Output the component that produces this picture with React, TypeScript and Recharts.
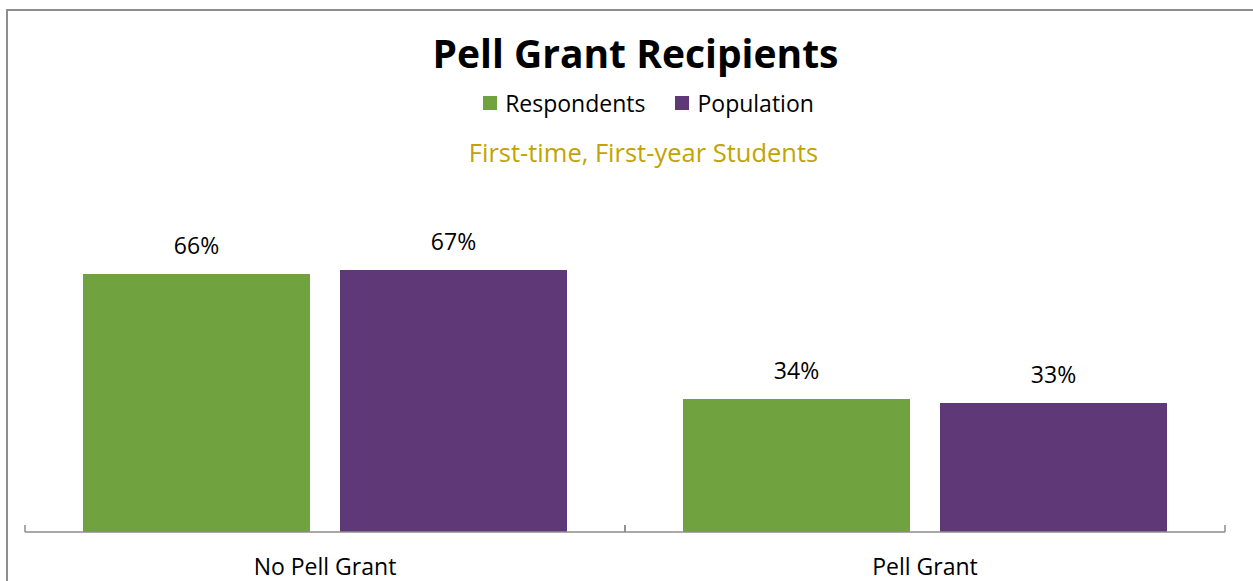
import { BarChart, Bar, XAxis, YAxis, LabelList } from 'recharts';

const categories = ['No Pell Grant', 'Pell Grant'];
const respondents = [66, 34];
const population = [67, 33];
const seriesNames = ['Respondents', 'Population'];
const seriesColors = ['#70a23f', '#5f3877'];

const data = categories.map((category, i) => ({
  category,
  respondents: respondents[i],
  population: population[i],
}));

const W = 1253;
const H = 581;
const FONT = '"Open Sans", sans-serif';
// half of one category band (plot width / number of categories / 2)
const HALF_BAND = 1200 / categories.length / 2;

function CategoryTick(props: any) {
  const { x, y, payload } = props;
  return (
    <g>
      <line x1={x - HALF_BAND} x2={x - HALF_BAND} y1={y} y2={y - 7} stroke="#8c8c8c" strokeWidth={1.5} />
      <line x1={x + HALF_BAND} x2={x + HALF_BAND} y1={y} y2={y - 7} stroke="#8c8c8c" strokeWidth={1.5} />
      <text x={x} y={y + 34} textAnchor="middle" dominantBaseline="central" fontSize={23} fill="#000" fontFamily={FONT}>
        {payload.value}
      </text>
    </g>
  );
}

export default function App() {
  return (
    <div style={{ position: 'fixed', left: 0, top: 0, width: W, height: H, overflow: 'hidden', background: '#fff', fontFamily: FONT }}>
      {/* chart frame, cut off at right and bottom like the original */}
      <div style={{ position: 'absolute', left: 6, top: 9, width: 1300, height: 700, border: '2px solid #8e8e8e' }} />

      <div style={{ position: 'absolute', left: 0, width: W, top: 29, textAlign: 'center', fontSize: 39, fontWeight: 700, lineHeight: '48px', paddingLeft: 18, boxSizing: 'border-box' }}>
        Pell Grant Recipients
      </div>

      <div style={{ position: 'absolute', left: 0, width: W, top: 88, display: 'flex', justifyContent: 'center', gap: 30, fontSize: 23, lineHeight: '30px', paddingLeft: 44, boxSizing: 'border-box' }}>
        {seriesNames.map((name, i) => (
          <div key={name} style={{ display: 'flex', alignItems: 'center', gap: 8 }}>
            <span style={{ display: 'inline-block', width: 14, height: 14, background: seriesColors[i] }} />
            <span>{name}</span>
          </div>
        ))}
      </div>

      <div style={{ position: 'absolute', left: 0, width: W, top: 135, textAlign: 'center', fontSize: 25.5, lineHeight: '34px', color: '#c2a400', paddingLeft: 34, boxSizing: 'border-box' }}>
        First-time, First-year Students
      </div>

      <div style={{ position: 'absolute', left: 0, top: 0 }}>
        <BarChart
          width={W}
          height={H}
          data={data}
          margin={{ top: 141, right: 28, bottom: 0, left: 25 }}
          barCategoryGap={58}
          barGap={30}
        >
          <XAxis
            dataKey="category"
            height={49}
            tickLine={false}
            tickSize={0}
            tickMargin={0}
            axisLine={{ stroke: '#8c8c8c', strokeWidth: 1.5 }}
            tick={<CategoryTick />}
            interval={0}
          />
          <YAxis hide domain={[0, 100]} />
          <Bar dataKey="respondents" name={seriesNames[0]} fill={seriesColors[0]} isAnimationActive={false}>
            <LabelList dataKey="respondents" position="top" offset={20} formatter={(v: any) => `${v}%`} fill="#000" fontSize={23} fontFamily={FONT} />
          </Bar>
          <Bar dataKey="population" name={seriesNames[1]} fill={seriesColors[1]} isAnimationActive={false}>
            <LabelList dataKey="population" position="top" offset={20} formatter={(v: any) => `${v}%`} fill="#000" fontSize={23} fontFamily={FONT} />
          </Bar>
        </BarChart>
      </div>
    </div>
  );
}
